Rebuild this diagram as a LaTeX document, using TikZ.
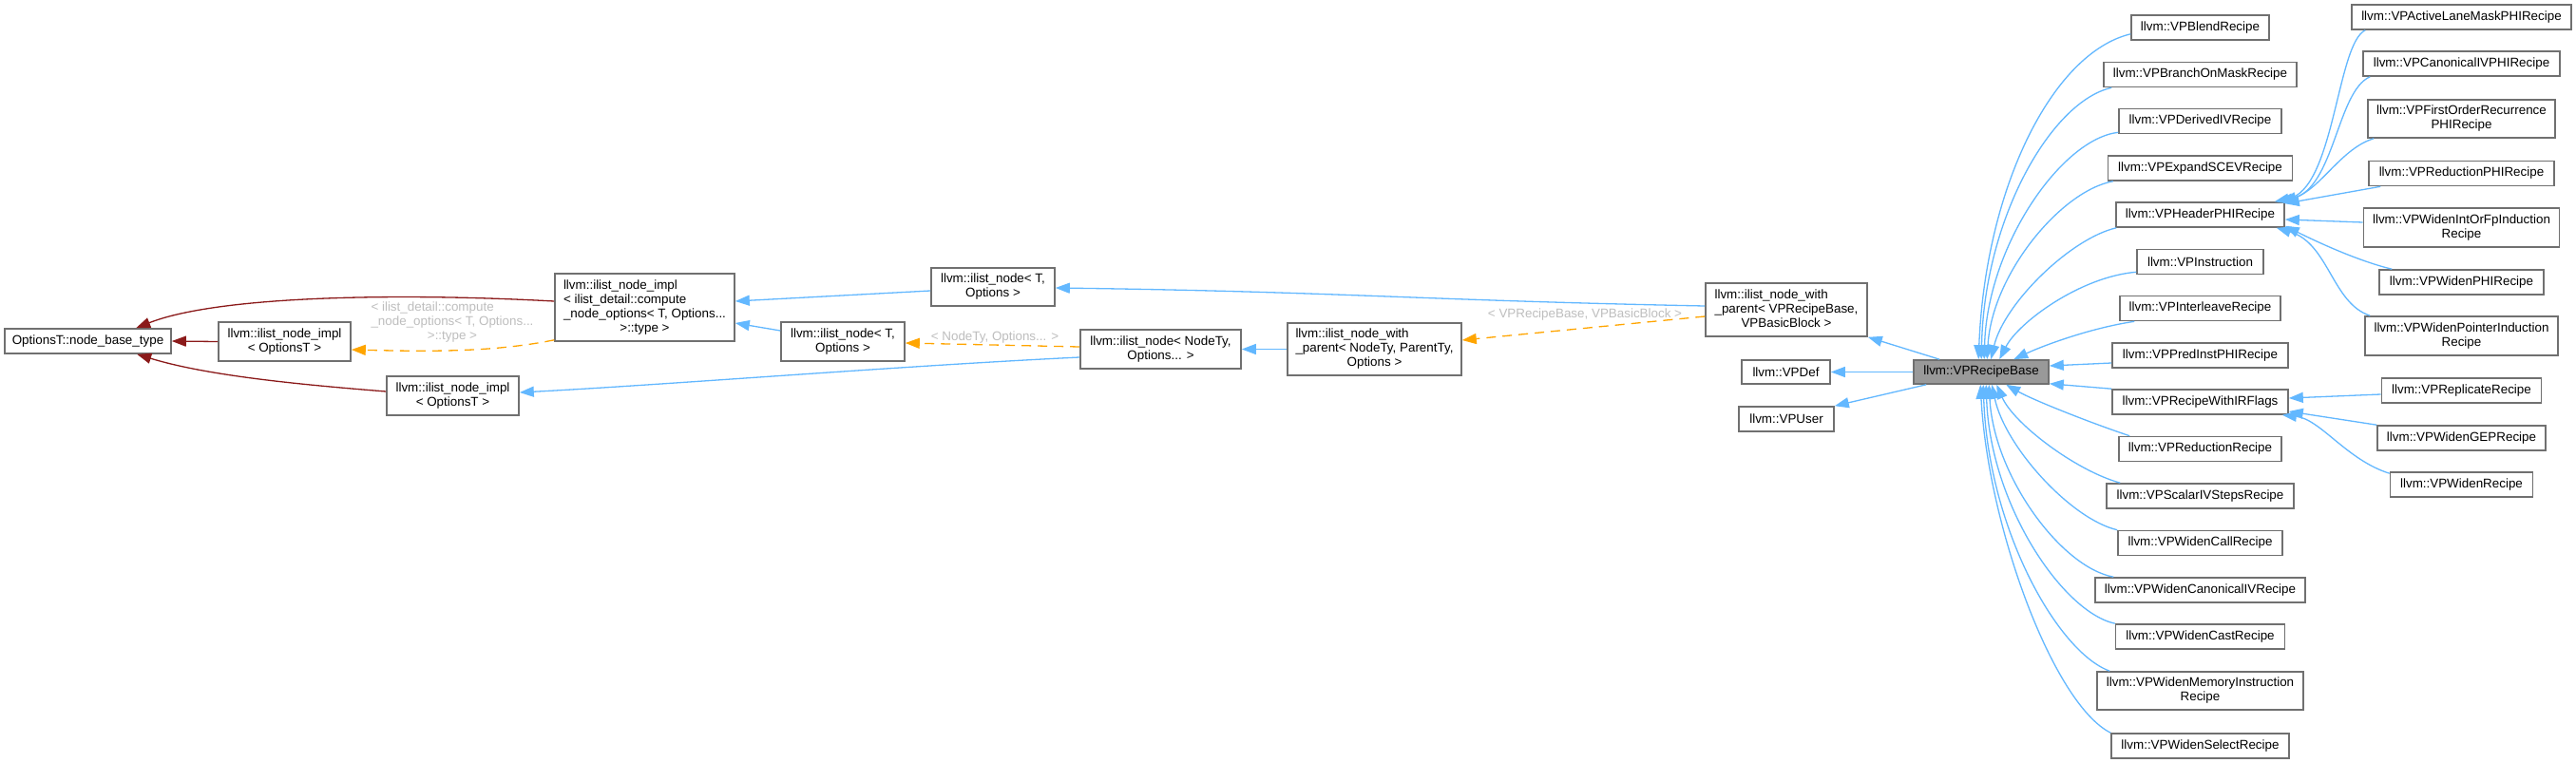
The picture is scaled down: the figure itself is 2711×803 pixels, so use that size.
\documentclass[tikz,border=0pt]{standalone}
\usepackage{fontspec}
\setmainfont{Liberation Sans}
\usetikzlibrary{arrows.meta,calc}
\definecolor{edgeblue}{HTML}{63B8FF}
\definecolor{edgered}{HTML}{8B1A1A}
\definecolor{edgeorange}{HTML}{FFA500}
\definecolor{boxgray}{HTML}{707070}
\definecolor{lblgray}{HTML}{BEBEBE}
\definecolor{curfill}{HTML}{999999}
\newcommand\mlines[2]{\begin{tabular}{@{}l@{}}#1\\\multicolumn{1}{@{}c@{}}{#2}\end{tabular}}
\begin{document}
\begin{tikzpicture}[x=0.5pt,y=-0.5pt,
  font=\fontsize{6.7pt}{7.5pt}\selectfont,
  box/.style={draw=boxgray, line width=0.8pt, fill=white, inner sep=0pt, minimum height=13pt},
  bw/.style={minimum width=#1*0.5pt},
  bh/.style={minimum height=#1*0.5pt},
  cur/.style={box, fill=curfill},
  arr/.style={line width=0.65pt, -{Triangle[length=7.5pt,width=5.5pt]}},
  pub/.style={arr, edgeblue},
  priv/.style={arr, edgered},
  tmpl/.style={arr, edgeorange, dash pattern=on 5pt off 3.5pt},
  lbl/.style={text=lblgray, inner sep=0pt}]
\fill[white] (0,0) rectangle (2711,803);
\useasboundingbox (0,0) rectangle (2711,803);

% left part
\node[box, bw=175] (base) at (92.5,359) {OptionsT::node\_base\_type};
\node[box, bw=139, bh=41] (impl1) at (299.5,359.5) {\mlines{llvm::ilist\_node\_impl}{< OptionsT >}};
\node[box, bw=139, bh=41] (impl2) at (476.5,416.5) {\mlines{llvm::ilist\_node\_impl}{< OptionsT >}};
\node[box, bw=189, bh=71] (compute) at (678.5,323.5) {\mlines{llvm::ilist\_node\_impl\\< ilist\_detail::compute\\\_node\_options< T, Options...}{>::type >}};
\node[box, bw=130, bh=40] (nodeTup) at (1045,302) {\mlines{llvm::ilist\_node< T,}{Options >}};
\node[box, bw=130, bh=41] (nodeTlo) at (887,359.5) {\mlines{llvm::ilist\_node< T,}{Options >}};
\node[box, bw=169, bh=41] (nodeTy) at (1221.5,367.5) {\mlines{llvm::ilist\_node< NodeTy,}{Options... >}};
\node[box, bw=183, bh=55] (wpnode) at (1446.5,367.5) {\mlines{llvm::ilist\_node\_with\\\_parent< NodeTy, ParentTy,}{Options >}};
\node[box, bw=170, bh=56] (wprecipe) at (1880,326) {\mlines{llvm::ilist\_node\_with\\\_parent< VPRecipeBase,}{VPBasicBlock >}};
\node[box, bw=93, bh=25] (vpdef) at (1879.5,391.5) {llvm::VPDef};
\node[box, bw=100] (vpuser) at (1880,441) {llvm::VPUser};
\node[cur, bw=142, bh=25] (rb) at (2085,391.5) {llvm::VPRecipeBase};

% middle column
\node[box, bw=145] (blend) at (2315.5,29) {llvm::VPBlendRecipe};
\node[box, bw=203] (branch) at (2315.5,78.5) {llvm::VPBranchOnMaskRecipe};
\node[box, bw=171] (derived) at (2315.5,127.5) {llvm::VPDerivedIVRecipe};
\node[box, bw=194] (expand) at (2315.5,177) {llvm::VPExpandSCEVRecipe};
\node[box, bw=177] (header) at (2315.5,226) {llvm::VPHeaderPHIRecipe};
\node[box, bw=133] (instr) at (2315.5,275.5) {llvm::VPInstruction};
\node[box, bw=169] (interleave) at (2315.5,324.5) {llvm::VPInterleaveRecipe};
\node[box, bw=185] (predinst) at (2315.5,374) {llvm::VPPredInstPHIRecipe};
\node[box, bw=185] (irflags) at (2315.5,423) {llvm::VPRecipeWithIRFlags};
\node[box, bw=171] (reduction) at (2315.5,472.5) {llvm::VPReductionRecipe};
\node[box, bw=197] (scalar) at (2315.5,522) {llvm::VPScalarIVStepsRecipe};
\node[box, bw=173] (call) at (2315.5,571.5) {llvm::VPWidenCallRecipe};
\node[box, bw=221] (canon) at (2315.5,621) {llvm::VPWidenCanonicalIVRecipe};
\node[box, bw=178] (cast) at (2315.5,670) {llvm::VPWidenCastRecipe};
\node[box, bw=217, bh=40] (memory) at (2315.5,727) {\mlines{llvm::VPWidenMemoryInstruction}{Recipe}};
\node[box, bw=187] (select) at (2315.5,785) {llvm::VPWidenSelectRecipe};

% right column
\node[box, bw=231] (active) at (2590.5,18) {llvm::VPActiveLaneMaskPHIRecipe};
\node[box, bw=207] (canonphi) at (2590.5,67) {llvm::VPCanonicalIVPHIRecipe};
\node[box, bw=197, bh=40] (firstorder) at (2590.5,125) {\mlines{llvm::VPFirstOrderRecurrence}{PHIRecipe}};
\node[box, bw=195] (redphi) at (2590.5,182.5) {llvm::VPReductionPHIRecipe};
\node[box, bw=206, bh=41] (intorfp) at (2590.5,239.5) {\mlines{llvm::VPWidenIntOrFpInduction}{Recipe}};
\node[box, bw=173] (widenphi) at (2590.5,297) {llvm::VPWidenPHIRecipe};
\node[box, bw=203, bh=41] (pointer) at (2590.5,353.5) {\mlines{llvm::VPWidenPointerInduction}{Recipe}};
\node[box, bw=168] (replicate) at (2590.5,411) {llvm::VPReplicateRecipe};
\node[box, bw=177] (gep) at (2590.5,461) {llvm::VPWidenGEPRecipe};
\node[box, bw=150] (widen) at (2590.5,510) {llvm::VPWidenRecipe};

% labels
\node[lbl] (lblcompute) at (476,339.5) {\mlines{< ilist\_detail::compute\\\_node\_options< T, Options...}{>::type >}};
\node[lbl] (lblnodety) at (1047,355) {< NodeTy, Options... >};
\node[lbl] (lblrecipe) at (1668,331) {< VPRecipeBase, VPBasicBlock >};

% left edges
\draw[priv] (impl1.west) -- (base.east);
\draw[priv] ($(compute.west)+(0,-6.5)$) .. controls +(-164,-9) and +(86,-34) .. ($(base.north west)+(139,0)$);
\draw[priv] ($(impl2.west)+(0,-4.5)$) .. controls +(-87,-7) and +(75,23) .. ($(base.south west)+(140,0)$);
\draw[tmpl] ($(compute.south west)+(0,-2)$) .. controls +(-64,13) and +(81,2) .. ($(impl1.east)+(0,8.5)$);
\draw[pub] ($(nodeTup.west)+(0,4)$) -- ($(compute.east)+(0,-6.5)$);
\draw[pub] ($(nodeTlo.west)+(0,-11.5)$) -- ($(compute.east)+(0,16.5)$);
\draw[pub] ($(nodeTy.west)+(0,8.5)$) .. controls +(-187,9) and +(154,-8) .. ($(impl2.east)+(0,-3.5)$);
\draw[tmpl] ($(nodeTy.west)+(0,-2.5)$) -- ($(nodeTlo.east)+(0,1.5)$);
\draw[pub] (wpnode.west) -- (nodeTy.east);
\draw[pub] ($(wprecipe.west)+(0,-4)$) .. controls +(-300,-6) and +(300,4) .. ($(nodeTup.east)+(0,1)$);
\draw[tmpl] ($(wprecipe.west)+(0,7)$) -- ($(wpnode.east)+(0,-9.5)$);
\draw[pub] ($(rb.north west)+(28,0)$) -- (wprecipe.south east);
\draw[pub] (rb.west) -- (vpdef.east);
\draw[pub] ($(rb.south west)+(14,0)$) -- (vpuser.north east);

% upper children of VPRecipeBase
\draw[pub] ($(blend.south west)+(0,-7)$) .. controls +(-83,20) and +(7,-179) .. ($(rb.north west)+(69,0)$);
\draw[pub] ($(branch.south west)+(9,0)$) .. controls +(-63,14) and +(3,-149) .. ($(rb.north west)+(72,0)$);
\draw[pub] ($(derived.south west)+(0,-2)$) .. controls +(-60,7) and +(3,-119) .. ($(rb.north west)+(75,0)$);
\draw[pub] ($(expand.south west)+(6,0)$) .. controls +(-55,10) and +(5,-89) .. ($(rb.north west)+(78,0)$);
\draw[pub] ($(header.south west)+(1,0)$) .. controls +(-48,11) and +(14,-59) .. ($(rb.north west)+(82,0)$);
\draw[pub] ($(instr.south west)+(0,-3)$) .. controls +(-59,5) and +(20,-39) .. ($(rb.north west)+(91,0)$);
\draw[pub] ($(interleave.south west)+(16,0)$) .. controls +(-47,7) and +(30,-14) .. ($(rb.north west)+(106,0)$);
\draw[pub] ($(predinst.west)+(0,8)$) -- ($(rb.east)+(0,-6.5)$);
\draw[pub] (irflags.north west) -- ($(rb.south east)+(0,-1)$);

% lower children of VPRecipeBase
\draw[pub] ($(reduction.north west)+(12,0)$) .. controls +(-42,-14) and +(28,16) .. ($(rb.south west)+(98,0)$);
\draw[pub] ($(scalar.north west)+(15,0)$) .. controls +(-47,-13) and +(18,41) .. ($(rb.south west)+(88,0)$);
\draw[pub] (call.north west) .. controls +(-48,-11) and +(14,66) .. ($(rb.south west)+(83,0)$);
\draw[pub] ($(canon.north west)+(20,0)$) .. controls +(-55,-10) and +(5,96) .. ($(rb.south west)+(80,0)$);
\draw[pub] (cast.north west) .. controls +(-55,-12) and +(4,126) .. ($(rb.south west)+(77,0)$);
\draw[pub] ($(memory.north west)+(14,0)$) .. controls +(-55,-20) and +(5,151) .. ($(rb.south west)+(74,0)$);
\draw[pub] (select.north west) .. controls +(-60,-30) and +(8,150) .. ($(rb.south west)+(71,0)$);

% children of VPHeaderPHIRecipe
\draw[pub] ($(active.south west)+(15,0)$) .. controls +(-30,14) and +(63,-13) .. ($(header.north east)+(-11,0)$);
\draw[pub] ($(canonphi.south west)+(8,0)$) .. controls +(-35,15) and +(59,-13) .. ($(header.north east)+(-7,0)$);
\draw[pub] ($(firstorder.south west)+(7,0)$) .. controls +(-34,10) and +(40,-13) .. ($(header.north east)+(-3,0)$);
\draw[pub] ($(redphi.south west)+(13,0)$) -- ($(header.north east)+(0,2)$);
\draw[pub] ($(intorfp.west)+(0,-5.5)$) -- ($(header.east)+(0,5)$);
\draw[pub] ($(widenphi.north west)+(14,0)$) .. controls +(-38,-9) and +(26,13) .. ($(header.south east)+(0,-2)$);
\draw[pub] ($(pointer.north west)+(6,0)$) .. controls +(-40,-13) and +(55,16) .. ($(header.south east)+(-9,0)$);

% children of VPRecipeWithIRFlags
\draw[pub] ($(replicate.west)+(0,4)$) -- ($(irflags.east)+(0,-4)$);
\draw[pub] (gep.north west) -- ($(irflags.east)+(0,10)$);
\draw[pub] ($(widen.north west)+(0,2)$) .. controls +(-45,-14) and +(40,4) .. ($(irflags.south east)+(-7,0)$);
\end{tikzpicture}
\end{document}
